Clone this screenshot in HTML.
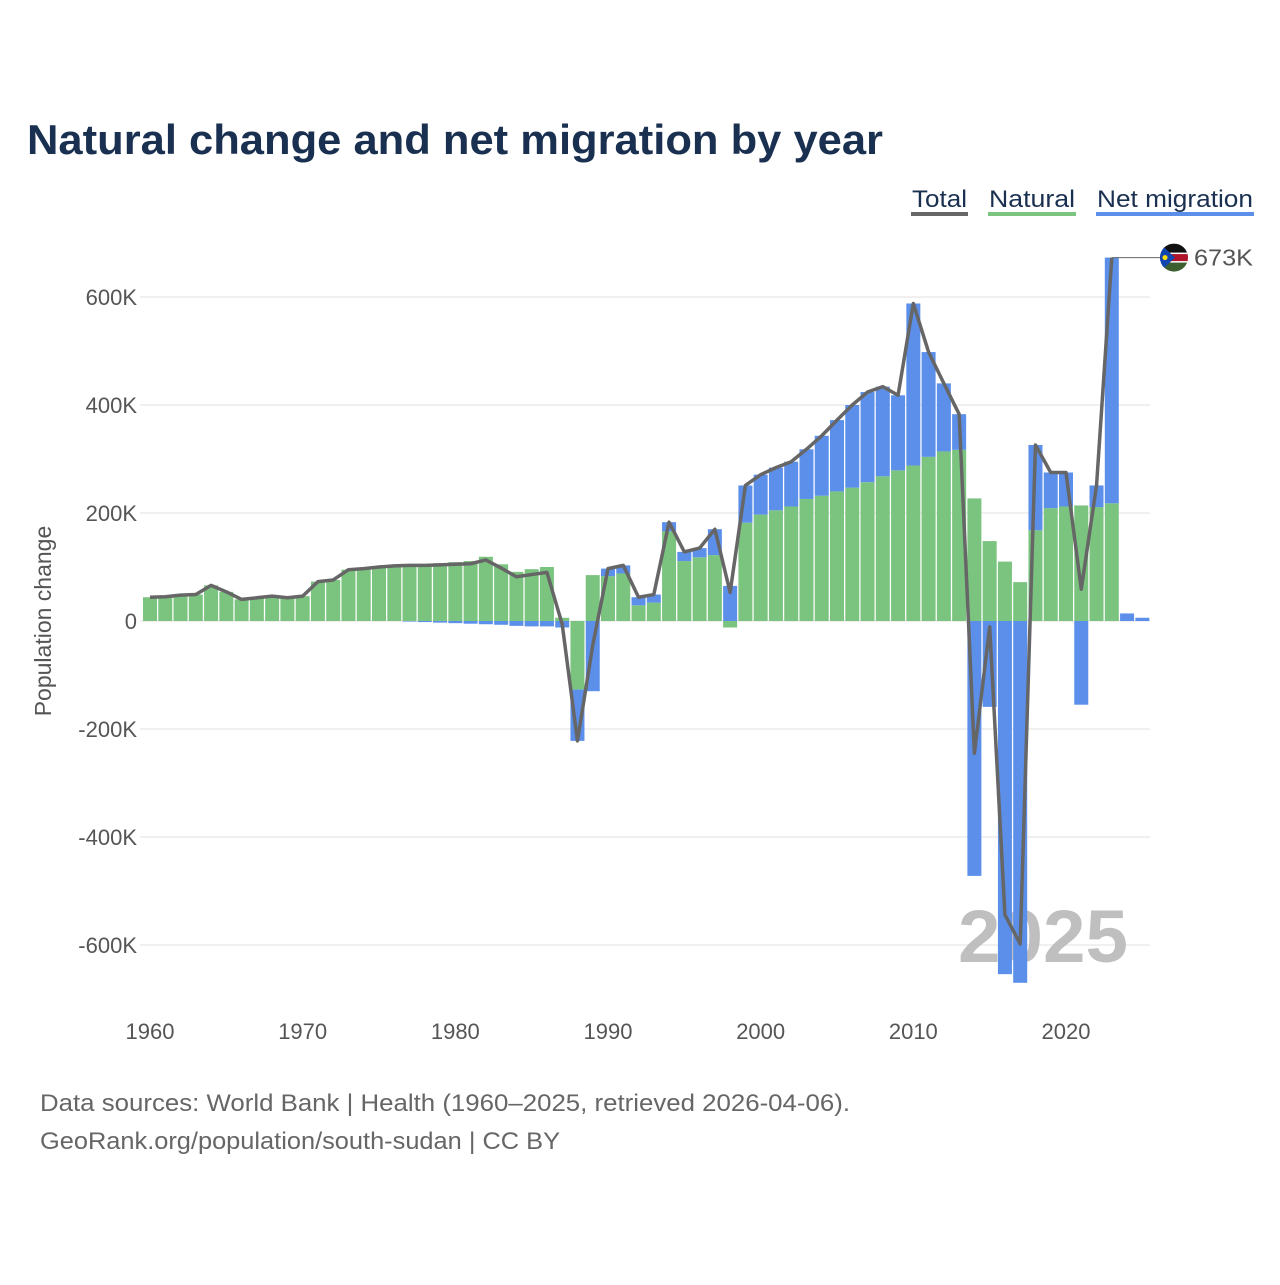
<!DOCTYPE html>
<html><head><meta charset="utf-8"><style>
html,body{margin:0;padding:0;background:#fff;}
svg text{font-family:"Liberation Sans",sans-serif;}
</style></head><body>
<svg id="chart" width="1280" height="1280" viewBox="0 0 1280 1280" xmlns="http://www.w3.org/2000/svg">
<text x="27" y="154" font-size="42" font-weight="bold" fill="#1a3050" textLength="856" lengthAdjust="spacingAndGlyphs">Natural change and net migration by year</text>
<g>
<g><text x="912" y="207" font-size="24" fill="#1a3050" textLength="55" lengthAdjust="spacingAndGlyphs">Total</text><rect x="911" y="212" width="57" height="4" fill="#666"/></g>
<g><text x="989" y="207" font-size="24" fill="#1a3050" textLength="86" lengthAdjust="spacingAndGlyphs">Natural</text><rect x="988" y="212" width="88" height="4" fill="#7bc47f"/></g>
<g><text x="1097" y="207" font-size="24" fill="#1a3050" textLength="156" lengthAdjust="spacingAndGlyphs">Net migration</text><rect x="1096" y="212" width="158" height="4" fill="#5b8fea"/></g>
</g>
<g id="grid"></g>
<g id="ylabels"></g>
<g id="xlabels"></g>
<text transform="translate(51,621) rotate(-90)" text-anchor="middle" font-size="23" fill="#555">Population change</text>
<text x="958" y="962" font-size="74" font-weight="bold" fill="#b5b5b5" opacity="0.85" textLength="170" lengthAdjust="spacingAndGlyphs">2025</text>
<g id="bars"></g>
<g id="line"></g>
<g id="marker"></g>
<text x="40" y="1111" font-size="24" fill="#666" textLength="810" lengthAdjust="spacingAndGlyphs">Data sources: World Bank | Health (1960–2025, retrieved 2026-04-06).</text>
<text x="40" y="1149" font-size="24" fill="#666" textLength="520" lengthAdjust="spacingAndGlyphs">GeoRank.org/population/south-sudan | CC BY</text>
</svg>
<script>
const years = [];
for (let y = 1960; y <= 2025; y++) years.push(y);
const natural = [44,45,48,49,66,54,40,43,46,43,46,73,76,95,97,100,102,104,105,107,109,111,119,105,91,96,100,6,-127,85,83,88,29,34,166,111,118,122,-12,182,197,205,212,226,232,240,247,257,268,279,288,304,314,317,227,148,110,72,168,209,212,214,211,218,0,0];
const migration = [0,0,0,0,0,0,0,0,0,0,0,0,0,0,0,0,0,-1,-2,-3,-4,-5,-6,-7,-9,-10,-10,-12,-95,-130,14,15,15,15,17,17,17,48,65,69,74,79,83,92,111,132,153,167,166,139,300,194,126,66,-472,-159,-654,-670,158,66,63,-155,40,455,14,6];
const yTicks = [-600,-400,-200,0,200,400,600];
const yTickLabels = ["-600K","-400K","-200K","0","200K","400K","600K"];
const xTicks = [1960,1970,1980,1990,2000,2010,2020];
const lineLastYear = 2023;

const NS = "http://www.w3.org/2000/svg";
const yScale = v => 621 - v * 0.54;
const xScale = yr => 150 + (yr - 1960) * (916 / 60);
const bw = 14;
function mk(tag, attrs, parent) {
  const e = document.createElementNS(NS, tag);
  for (const k in attrs) e.setAttribute(k, attrs[k]);
  parent.appendChild(e);
  return e;
}
const grid = document.getElementById('grid'), yl = document.getElementById('ylabels'), xl = document.getElementById('xlabels');
yTicks.forEach((t, i) => {
  const l = mk('line', {x1: 140, x2: 1150, y1: yScale(t), y2: yScale(t), stroke: '#ececec', 'stroke-width': 1.5}, grid);
  
  
  const tx = mk('text', {x: 137, y: yScale(t) + 8, 'text-anchor': 'end', 'font-size': 22, fill: '#555'}, yl);
  tx.textContent = yTickLabels[i];
  
  
});
xTicks.forEach(t => {
  const tx = mk('text', {x: xScale(t), y: 1039, 'text-anchor': 'middle', 'font-size': 22, fill: '#555'}, xl);
  tx.textContent = t;
  
  
});
const bars = document.getElementById('bars');
function stackBar(x, v, posBase, negBase, color) {
  let y0, y1;
  if (v >= 0) { y0 = posBase; y1 = posBase + v; } else { y0 = negBase; y1 = negBase + v; }
  const top = yScale(Math.max(y0, y1)), bot = yScale(Math.min(y0, y1));
  return mk('rect', {x: x - bw / 2, y: top, width: bw, height: Math.max(0, bot - top), fill: color}, bars);
}
years.forEach((yr, i) => {
  const x = xScale(yr);
  const n = natural[i], m = migration[i];
  let pos = 0, neg = 0;
  const g = stackBar(x, n, pos, neg, '#7bc47f');
  
  
  if (n >= 0) pos += n; else neg += n;
  const b = stackBar(x, m, pos, neg, '#5b8fea');
  
  
});
const pts = [];
years.forEach((yr, i) => { if (yr <= lineLastYear) pts.push(xScale(yr) + ',' + yScale(natural[i] + migration[i])); });
const pl = mk('polyline', {points: pts.join(' '), fill: 'none', stroke: '#666', 'stroke-width': 3.5, 'stroke-linejoin': 'round'}, document.getElementById('line'));


const li = years.indexOf(lineLastYear);
const lastTotal = natural[li] + migration[li];
const mg = document.getElementById('marker');
const my = yScale(lastTotal);
const lead = mk('line', {x1: xScale(lineLastYear), x2: 1160, y1: my, y2: my, stroke: '#666', 'stroke-width': 1}, mg);


const defs = mk('defs', {}, mg);
const cp = mk('clipPath', {id: 'fc'}, defs);
mk('circle', {cx: 1174, cy: my, r: 14}, cp);
const flag = mk('g', {'clip-path': 'url(#fc)'}, mg);


mk('rect', {x: 1160, y: my - 14, width: 28, height: 10, fill: '#111'}, flag);
mk('rect', {x: 1160, y: my - 4, width: 28, height: 8, fill: '#b0142a'}, flag);
mk('rect', {x: 1160, y: my - 5, width: 28, height: 1.5, fill: '#fff'}, flag);
mk('rect', {x: 1160, y: my + 3.5, width: 28, height: 1.5, fill: '#fff'}, flag);
mk('rect', {x: 1160, y: my + 5, width: 28, height: 10, fill: '#3d5f30'}, flag);
mk('polygon', {points: `1160,${my-14} 1175,${my} 1160,${my+14}`, fill: '#0f47af'}, flag);
mk('circle', {cx: 1165, cy: my, r: 2.5, fill: '#fcdd09'}, flag);
const lab = mk('text', {x: 1194, y: my + 8, 'font-size': 23, fill: '#555', textLength: 59, lengthAdjust: 'spacingAndGlyphs'}, mg);
lab.textContent = Math.round(lastTotal) + 'K';


</script>
</body></html>
